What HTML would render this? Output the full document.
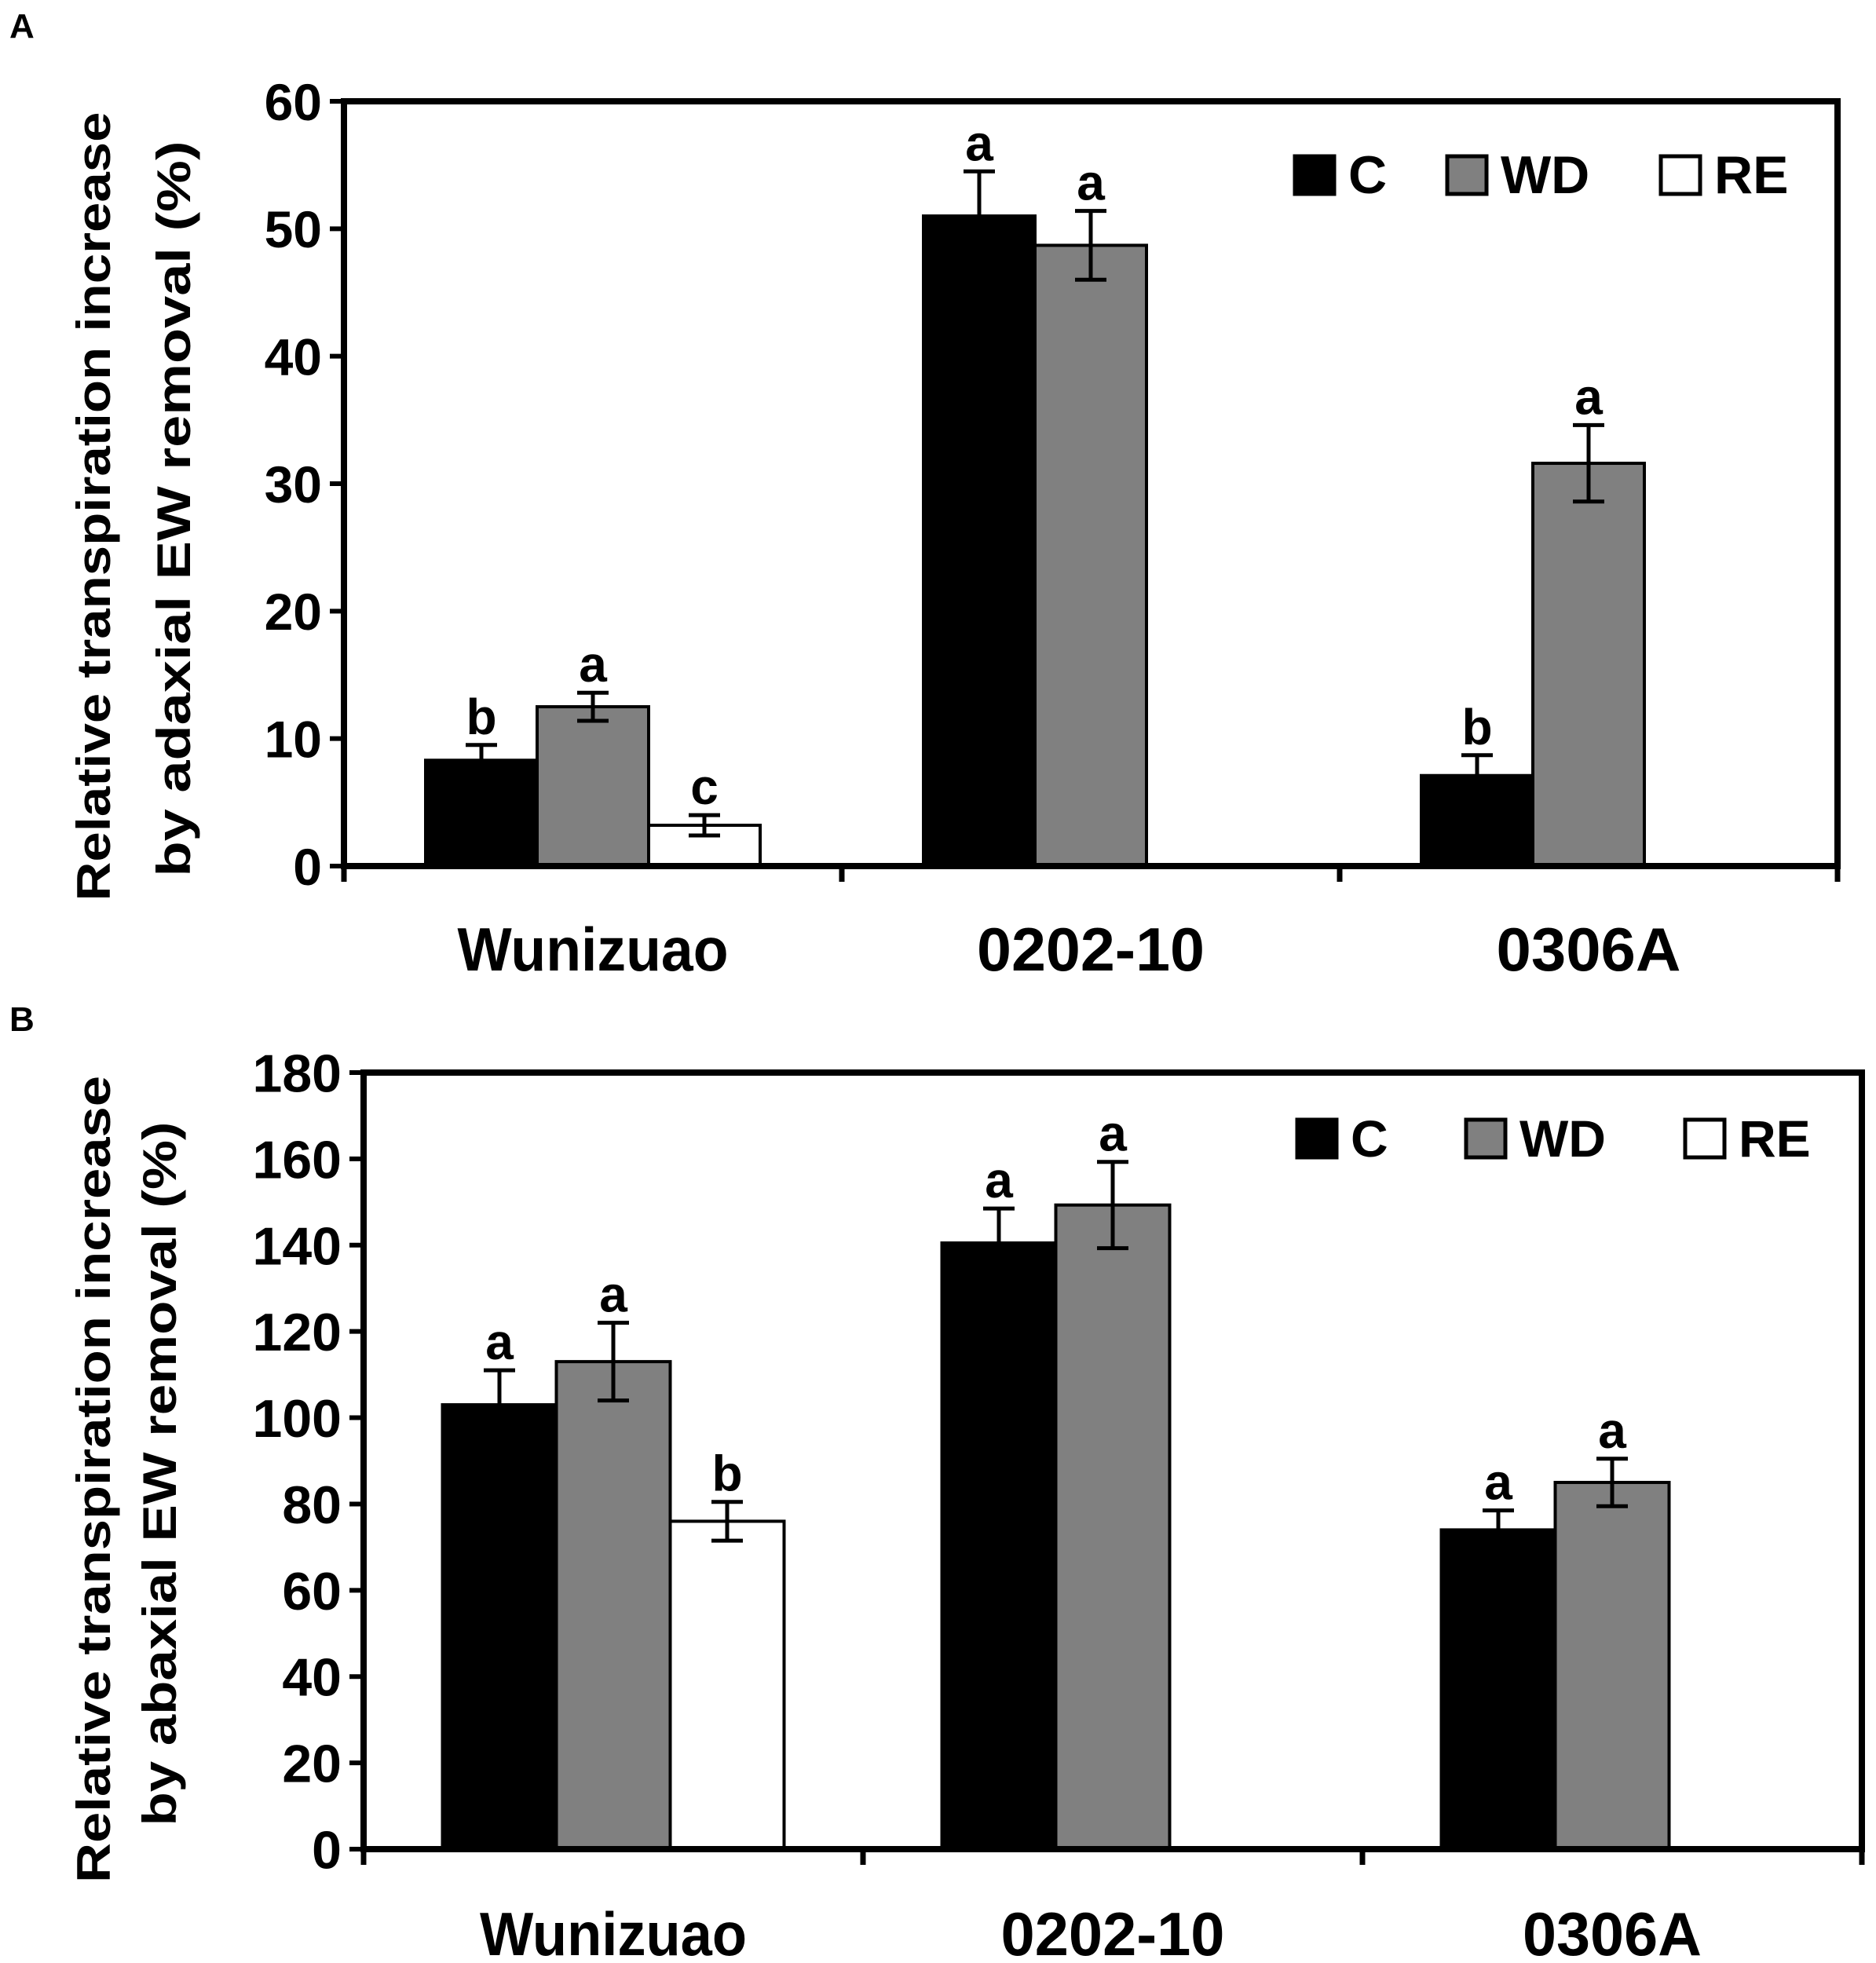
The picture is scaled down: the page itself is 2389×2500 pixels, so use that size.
<!DOCTYPE html>
<html><head><meta charset="utf-8"><style>
html,body{margin:0;padding:0;background:#fff;}
svg{display:block;font-family:"Liberation Sans",sans-serif;font-weight:bold;}
</style></head><body>
<svg id="fig" width="2389" height="2500" viewBox="0 0 2389 2500" xmlns="http://www.w3.org/2000/svg">
<text x="12" y="48" font-size="44">A</text>
<text x="12" y="1313" font-size="44">B</text>
<g id="panelA"></g>
<g id="panelB"></g>
</svg>
<script>
const categories = ["Wunizuao", "0202-10", "0306A"];
const seriesNames = ["C", "WD", "RE"];
const aC = [8.3, 51.0, 7.1];
const aWD = [12.5, 48.7, 31.6];
const aRE = [3.2, null, null];
const aCerr = [1.2, 3.5, 1.6];
const aWDerr = [1.1, 2.7, 3.0];
const aREerr = [0.8, null, null];
const aCLetters = ["b", "a", "b"];
const aWDLetters = ["a", "a", "a"];
const aRELetters = ["c", "", ""];
const aTicks = [0, 10, 20, 30, 40, 50, 60];
const bC = [103, 140.5, 74];
const bWD = [113, 149.3, 85];
const bRE = [76, null, null];
const bCerr = [8, 8, 4.5];
const bWDerr = [9, 10, 5.5];
const bREerr = [4.5, null, null];
const bCLetters = ["a", "a", "a"];
const bWDLetters = ["a", "a", "a"];
const bRELetters = ["b", "", ""];
const bTicks = [0, 20, 40, 60, 80, 100, 120, 140, 160, 180];

const NS = "http://www.w3.org/2000/svg";
const fills = ["#000", "#808080", "#fff"];
function mk(parent, tag, attrs, text) {
  const e = document.createElementNS(NS, tag);
  for (const k in attrs) e.setAttribute(k, attrs[k]);
  if (text !== undefined) e.textContent = text;
  parent.appendChild(e);
  return e;
}
function drawPanel(g, cfg) {
  const {x0, x1, yTop, yBot, max, ticks, series, errs, letters, tickFont, title1, title2, t1x, t2x, t1cy, t2cy, t1len, t2len, catY, catFont, catLen, legY, legX, legFont} = cfg;
  const gw = (x1 - x0) / categories.length;
  const bw = cfg.bw;
  const yS = v => yBot - v / max * (yBot - yTop);
  series.forEach((vals, s) => {
    vals.forEach((v, i) => {
      if (v === null) return;
      const cx = x0 + gw * i + gw / 2;
      const bx = cx - 1.5 * bw + s * bw;
      const r = mk(g, "rect", {x: bx, y: yS(v), width: bw, height: yBot - yS(v), fill: fills[s], stroke: "#000", "stroke-width": 4});
      
      
      const e = errs[s][i];
      const ex = bx + bw / 2;
      const eg = mk(g, "g", {stroke: "#000", "stroke-width": 5});
      
      
      mk(eg, "line", {x1: ex, x2: ex, y1: yS(v - e), y2: yS(v + e)});
      mk(eg, "line", {x1: ex - 20, x2: ex + 20, y1: yS(v + e), y2: yS(v + e)});
      mk(eg, "line", {x1: ex - 20, x2: ex + 20, y1: yS(v - e), y2: yS(v - e)});
      const lt = letters[s][i];
      if (lt) {
        const t = mk(g, "text", {x: ex, y: yS(v + e) - 14, "font-size": 64, "text-anchor": "middle"}, lt);
        
        
      }
    });
  });
  const fr = mk(g, "rect", {x: x0, y: yTop, width: x1 - x0, height: yBot - yTop, fill: "none", stroke: "#000", "stroke-width": 8});
  
  
  ticks.forEach(t => {
    const y = yS(t);
    mk(g, "line", {x1: x0 - 18, x2: x0, y1: y, y2: y, stroke: "#000", "stroke-width": 6});
    const tx = mk(g, "text", {x: x0 - 28, y: y + tickFont * 0.36, "font-size": tickFont, "text-anchor": "end"}, String(t));
    
    
  });
  for (let i = 0; i <= categories.length; i++) {
    const x = x0 + gw * i;
    mk(g, "line", {x1: x, x2: x, y1: yBot, y2: yBot + 20, stroke: "#000", "stroke-width": 7});
  }
  categories.forEach((c, i) => {
    const t = mk(g, "text", {x: x0 + gw * i + gw / 2, y: catY, "font-size": catFont, "text-anchor": "middle", textLength: catLen[i], lengthAdjust: "spacingAndGlyphs"}, c);
    
    
  });
  const t1 = mk(g, "text", {x: 0, y: 0, "font-size": 60, "text-anchor": "middle", textLength: t1len, lengthAdjust: "spacingAndGlyphs", transform: `translate(${t1x},${t1cy}) rotate(-90)`}, title1);
  
  
  const t2 = mk(g, "text", {x: 0, y: 0, "font-size": 60, "text-anchor": "middle", textLength: t2len, lengthAdjust: "spacingAndGlyphs", transform: `translate(${t2x},${t2cy}) rotate(-90)`}, title2);
  
  
  seriesNames.forEach((n, s) => {
    const lg = mk(g, "g", {});
    
    
    mk(lg, "rect", {x: legX[s], y: legY, width: cfg.legW, height: cfg.legH, fill: fills[s], stroke: "#000", "stroke-width": 5});
    mk(lg, "text", {x: legX[s] + cfg.legW + 18, y: legY + cfg.legH - 1, "font-size": legFont}, n);
  });
}
drawPanel(document.getElementById("panelA"), {
  x0: 438, x1: 2340, yTop: 129, yBot: 1103, max: 60, ticks: aTicks, bw: 142,
  series: [aC, aWD, aRE], errs: [aCerr, aWDerr, aREerr], letters: [aCLetters, aWDLetters, aRELetters],
  tickFont: 66, title1: "Relative transpiration increase", title2: "by adaxial EW removal (%)",
  t1x: 140, t2x: 242, t1cy: 645, t2cy: 648, t1len: 1005, t2len: 937,
  catY: 1236, catFont: 78, catLen: [345, 290, 235],
  legY: 199, legW: 50, legH: 48, legX: [1649, 1843, 2115], legFont: 68
});
drawPanel(document.getElementById("panelB"), {
  x0: 463, x1: 2371, yTop: 1366, yBot: 2355, max: 180, ticks: bTicks, bw: 145,
  series: [bC, bWD, bRE], errs: [bCerr, bWDerr, bREerr], letters: [bCLetters, bWDLetters, bRELetters],
  tickFont: 68, title1: "Relative transpiration increase", title2: "by abaxial EW removal (%)",
  t1x: 140, t2x: 224, t1cy: 1884, t2cy: 1877, t1len: 1028, t2len: 897,
  catY: 2490, catFont: 78, catLen: [340, 285, 228],
  legY: 1426, legW: 50, legH: 48, legX: [1652, 1867, 2146], legFont: 66
});
</script>
</body></html>
